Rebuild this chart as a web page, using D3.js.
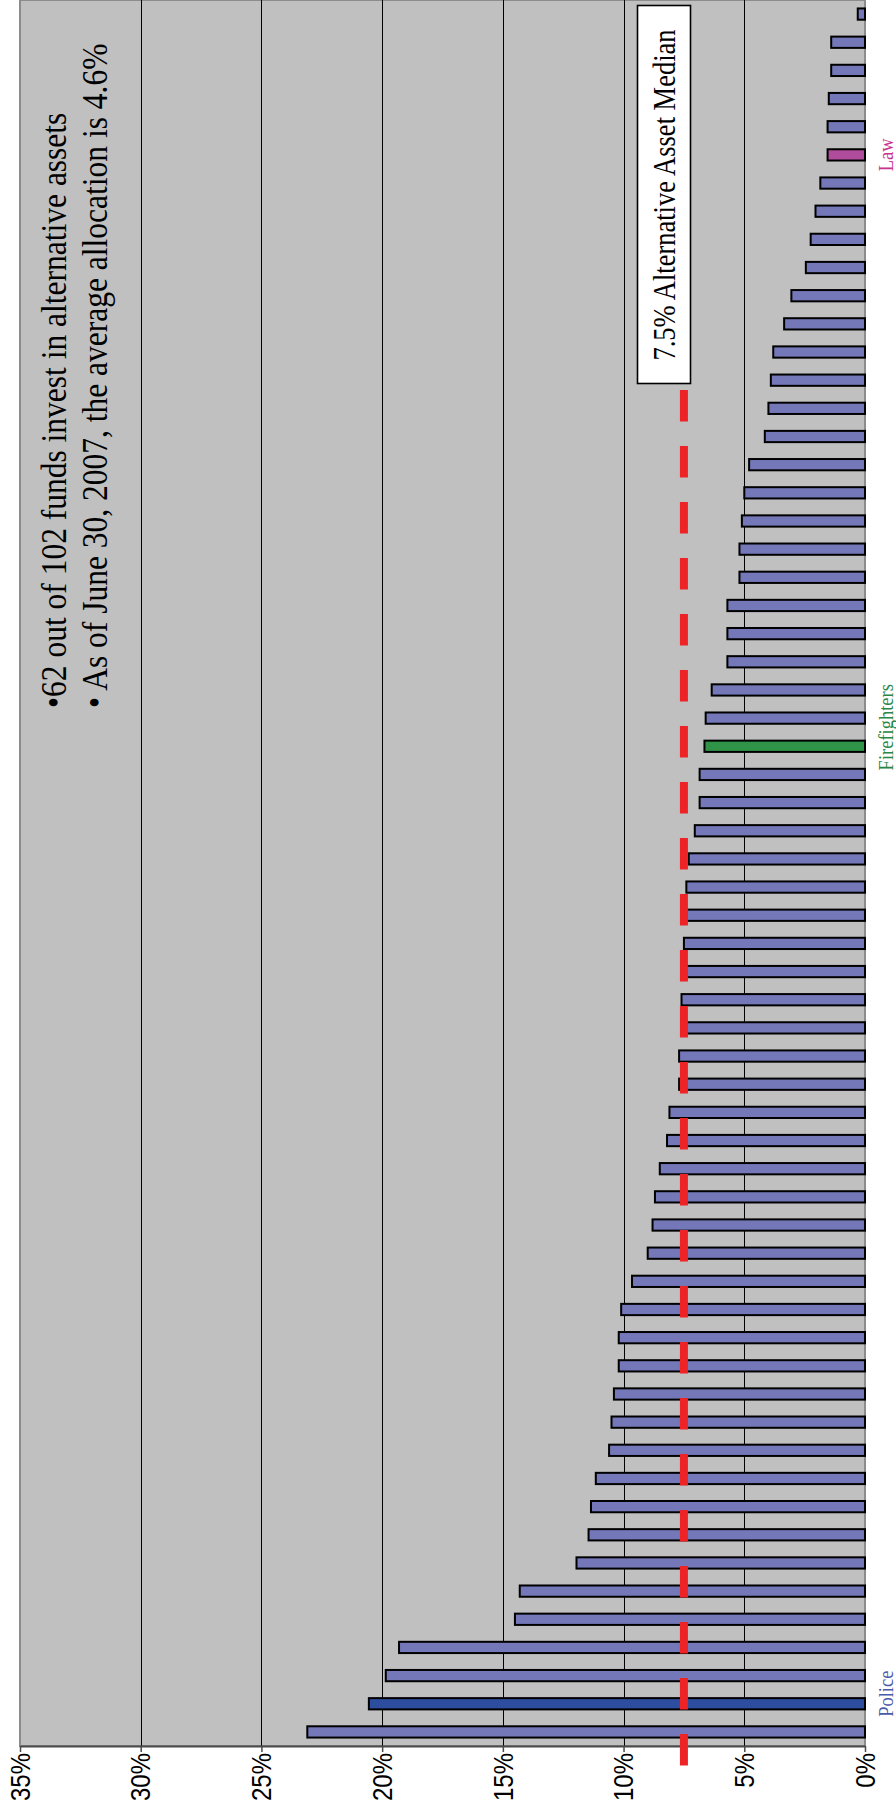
<!DOCTYPE html>
<html>
<head>
<meta charset="utf-8">
<script src="https://cdn.jsdelivr.net/npm/d3@7"></script>
<style>
  html, body { margin: 0; padding: 0; background: #ffffff; }
  svg { display: block; }
</style>
</head>
<body>
<svg id="chart" width="896" height="1812"></svg>
<script>
// Alternative-asset allocation per fund (percent of assets), smallest first
const allocations = [
  0.3, 1.4, 1.4, 1.5, 1.55, 1.55, 1.85, 2.05, 2.25, 2.45,
  3.05, 3.35, 3.8, 3.9, 4.0, 4.15, 4.8, 5.0, 5.1, 5.2,
  5.2, 5.7, 5.7, 5.7, 6.35, 6.6, 6.65, 6.85, 6.85, 7.05,
  7.3, 7.4, 7.5, 7.5, 7.5, 7.6, 7.6, 7.7, 7.7, 8.1,
  8.2, 8.5, 8.7, 8.8, 9.0, 9.65, 10.1, 10.2, 10.2, 10.4,
  10.5, 10.6, 11.15, 11.35, 11.45, 11.95, 14.3, 14.5, 19.3, 19.85,
  20.55, 23.1
];
const funds = allocations.map((_, i) => "Fund " + (i + 1));

// Named funds and where they sit in the list
const namedFunds = ["Law", "Firefighters", "Police"];
const namedIndex = [5, 26, 60];

const tickValues = [0, 5, 10, 15, 20, 25, 30, 35];
const medianValue = 7.5;
const medianLabel = "7.5% Alternative Asset Median";
const notes = [
  "\u202262 out of 102 funds invest in alternative assets",
  "\u2022 As of June 30, 2007, the average allocation is 4.6%"
];

// Styling
const barFill = "#7478b8";
const namedFill = { "Law": "#b04c9c", "Firefighters": "#2f9447", "Police": "#2d4e9e" };
const namedText = { "Law": "#c8338e", "Firefighters": "#2a8646", "Police": "#4a5aaa" };
const namedShift = { "Law": 0, "Firefighters": -19, "Police": -10 }; // nudges of the name captions
const SX = 1.16; // horizontal stretch applied to all (rotated) lettering

const plot = { left: 20, right: 865, top: 0, bottom: 1746 };

const svg = d3.select("#chart");

const x = d3.scaleLinear().domain([0, 35]).range([plot.right, plot.left]);
const y = d3.scaleBand()
  .domain(funds)
  .range([plot.top, plot.bottom])
  .paddingInner(0.6)
  .paddingOuter(0.3);

const rot = (px, py) => `translate(${px},${py}) scale(${SX},1) rotate(-90)`;

// Plot background
svg.append("rect")
  .attr("x", plot.left).attr("y", plot.top)
  .attr("width", plot.right - plot.left).attr("height", plot.bottom - plot.top)
  .attr("fill", "#c0c0c0")
  .attr("stroke", "#8c8c8c").attr("stroke-width", 2);

// Gridlines
svg.append("g")
  .selectAll("line")
  .data(tickValues.filter(v => v > 0 && v < 35))
  .join("line")
  .attr("x1", d => Math.round(x(d)) + 0.5).attr("x2", d => Math.round(x(d)) + 0.5)
  .attr("y1", plot.top).attr("y2", plot.bottom)
  .attr("stroke", "#000").attr("stroke-width", 1);

// Bars
svg.append("g")
  .selectAll("rect")
  .data(allocations)
  .join("rect")
  .attr("x", d => x(d))
  .attr("y", (d, i) => y(funds[i]))
  .attr("width", d => x(0) - x(d))
  .attr("height", y.bandwidth())
  .attr("fill", (d, i) => {
    const k = namedIndex.indexOf(i);
    return k >= 0 ? namedFill[namedFunds[k]] : barFill;
  })
  .attr("stroke", "#000").attr("stroke-width", 2);

// Value axis along the bottom
const axis = svg.append("g")
  .attr("transform", `translate(0,${plot.bottom})`)
  .call(d3.axisBottom(x).tickValues(tickValues).tickFormat(d => d + "%").tickSize(6).tickSizeOuter(0));
axis.select(".domain").attr("stroke", "#4a4a4a").attr("stroke-width", 2.2);
axis.selectAll(".tick line").attr("stroke", "#4a4a4a").attr("stroke-width", 1.5);
axis.selectAll(".tick text")
  .attr("x", null).attr("y", null)
  .attr("dy", "0.33em")
  .attr("text-anchor", "end")
  .attr("transform", rot(0, 7))
  .attr("font-family", "'Liberation Sans', Arial, sans-serif")
  .attr("font-size", 24)
  .attr("fill", "#000");

// Median reference line
svg.append("line")
  .attr("x1", x(medianValue)).attr("x2", x(medianValue))
  .attr("y1", 390).attr("y2", plot.bottom + 20)
  .attr("stroke", "#ee2326").attr("stroke-width", 8)
  .attr("stroke-dasharray", "31.5 24.5");

// Median caption box
svg.append("rect")
  .attr("x", 637.5).attr("y", 5.5)
  .attr("width", 53).attr("height", 378)
  .attr("fill", "#ffffff").attr("stroke", "#000").attr("stroke-width", 1.6);
svg.append("text")
  .attr("transform", rot(675, 195))
  .attr("text-anchor", "middle")
  .attr("font-family", "'Liberation Serif', 'Times New Roman', serif")
  .attr("font-size", 26.5)
  .attr("fill", "#000")
  .text(medianLabel);

// Notes
svg.append("g")
  .selectAll("text")
  .data(notes)
  .join("text")
  .attr("transform", (d, i) => rot(66 + i * 40.5, 708))
  .attr("text-anchor", "start")
  .attr("font-family", "'Liberation Serif', 'Times New Roman', serif")
  .attr("font-size", 31.5)
  .attr("fill", "#000")
  .text(d => d);

// Names beside highlighted bars
svg.append("g")
  .selectAll("text")
  .data(namedFunds)
  .join("text")
  .attr("transform", (d, k) => rot(893, y(funds[namedIndex[k]]) + y.bandwidth() / 2 + namedShift[d]))
  .attr("text-anchor", "middle")
  .attr("font-family", "'Liberation Serif', 'Times New Roman', serif")
  .attr("font-size", 18.5)
  .attr("fill", d => namedText[d])
  .text(d => d);
</script>
</body>
</html>
